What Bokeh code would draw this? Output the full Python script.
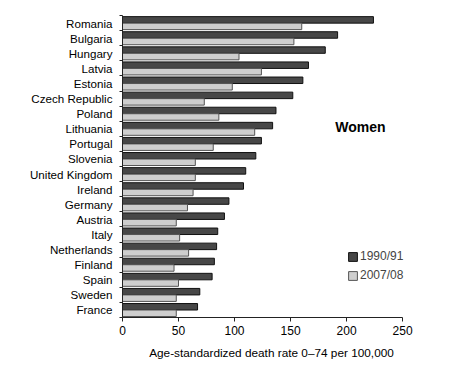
from bokeh.plotting import figure
from bokeh.models import Range1d, FixedTicker, Label, Legend, LegendItem, ColumnDataSource
from bokeh.embed import file_html
from bokeh.resources import INLINE

countries = ["Romania", "Bulgaria", "Hungary", "Latvia", "Estonia", "Czech Republic",
             "Poland", "Lithuania", "Portugal", "Slovenia", "United Kingdom", "Ireland",
             "Germany", "Austria", "Italy", "Netherlands", "Finland", "Spain", "Sweden", "France"]
rate_1990 = [224, 192, 181, 166, 161, 152, 137, 134, 124, 119, 110, 108,
             95, 91, 85, 84, 82, 80, 69, 67]
rate_2007 = [160, 153, 104, 124, 98, 73, 86, 118, 81, 65, 65, 63,
             58, 48, 51, 59, 46, 50, 48, 48]
x_ticks = [0, 50, 100, 150, 200, 250]

n = len(countries)
pos = [n - 1 - i for i in range(n)]

src = ColumnDataSource(dict(
    pos_a=[p_ + 0.21 for p_ in pos],
    pos_b=[p_ - 0.22 for p_ in pos],
    a=rate_1990, b=rate_2007,
))

FONT = "Liberation Sans"

p = figure(width=453, height=362, output_backend="svg", toolbar_location=None,
           x_range=Range1d(0, 266), y_range=Range1d(-0.5, n - 0.5),
           min_border_left=122, min_border_right=33, min_border_top=15, min_border_bottom=43)
p.outline_line_color = None
p.grid.visible = False
p.background_fill_color = "white"

r1 = p.hbar(y="pos_a", right="a", left=0, height=0.43, source=src,
            fill_color="#474747", line_color="#111111", line_width=1)
r2 = p.hbar(y="pos_b", right="b", left=0, height=0.43, source=src,
            fill_color="#cecece", line_color="#555555", line_width=1)

# y axis: labels at centres, small ticks at group boundaries
p.yaxis.ticker = FixedTicker(ticks=pos, minor_ticks=[k - 0.5 for k in range(n + 1)])
p.yaxis.major_label_overrides = {pp: c for pp, c in zip(pos, countries)}
p.yaxis.major_tick_out = 0
p.yaxis.major_tick_in = 0
p.yaxis.minor_tick_out = 3
p.yaxis.minor_tick_in = 0
p.yaxis.major_label_standoff = 7
p.yaxis.major_label_text_font = FONT
p.yaxis.major_label_text_font_size = "11.6px"
p.yaxis.major_label_text_color = "black"
p.yaxis.axis_line_color = "#222222"
p.yaxis.minor_tick_line_color = "#222222"

p.xaxis.ticker = FixedTicker(ticks=x_ticks, minor_ticks=[])
p.xaxis.bounds = (0, 250)
p.xaxis.major_tick_out = 4
p.xaxis.major_tick_in = 0
p.xaxis.major_label_standoff = 4
p.xaxis.major_label_text_font = FONT
p.xaxis.major_label_text_font_size = "12px"
p.xaxis.major_label_text_color = "black"
p.xaxis.axis_label = "Age-standardized death rate 0\u201374 per 100,000"
p.xaxis.axis_label_text_font = FONT
p.xaxis.axis_label_text_font_size = "11.8px"
p.xaxis.axis_label_text_font_style = "normal"
p.xaxis.axis_label_text_color = "black"
p.xaxis.axis_label_standoff = 8
p.xaxis.axis_line_color = "#222222"
p.xaxis.major_tick_line_color = "#222222"

legend = Legend(items=[LegendItem(label="1990/91", renderers=[r1]),
                       LegendItem(label="2007/08", renderers=[r2])],
                location=(225, 35))
legend.padding = 0
legend.margin = 0
legend.spacing = 5
legend.glyph_width = 11
legend.glyph_height = 11
legend.label_standoff = 2
legend.label_text_font = FONT
legend.label_text_font_size = "12px"
legend.label_height = 11
legend.border_line_color = None
legend.background_fill_alpha = 0
p.add_layout(legend)

p.add_layout(Label(x=190, y=12.1, text="Women", text_font=FONT, text_font_size="14px",
                   text_font_style="bold", text_baseline="middle", text_color="black"))

open("out.html", "w").write(file_html(p, INLINE))
